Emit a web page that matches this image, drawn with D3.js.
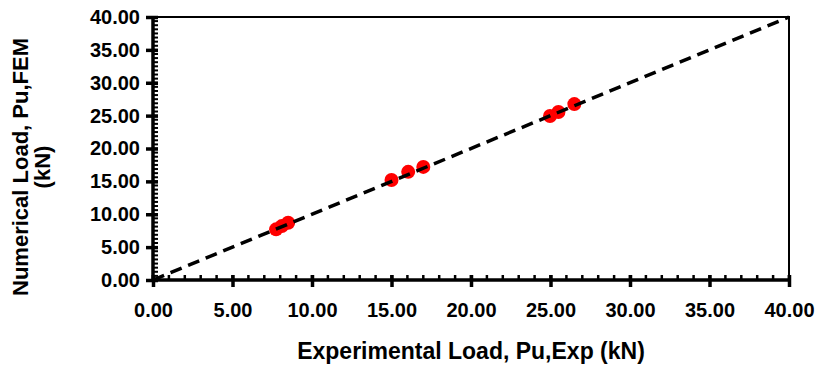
<!DOCTYPE html>
<html lang="en">
	<head>
		<meta charset="utf-8">
		<title>Numerical vs experimental load</title>
		<script type="text/javascript" src="https://cdn.jsdelivr.net/npm/d3@7/dist/d3.min.js"></script>
		<style type="text/css">
			body { margin: 0; background: #fff; }
			text { font-family: "Liberation Sans", Arial, sans-serif; font-weight: bold; fill: #000; }
		</style>
	</head>
	<body>
		<script type="text/javascript">

			//Data
			var expLoad = [7.74, 8.1, 8.5, 15.0, 16.05, 17.0, 24.97, 25.5, 26.5];
			var femLoad = [7.7, 8.2, 8.7, 15.2, 16.45, 17.2, 24.95, 25.55, 26.75];
			var tickValues = [0, 5, 10, 15, 20, 25, 30, 35, 40];
			var lineEnds = [0, 40];

			//Width and height
			var w = 819;
			var h = 369;
			var pLeft = 153, pRight = 789, pTop = 17, pBottom = 280;

			var xScale = d3.scaleLinear().domain([0, 40]).range([pLeft, pRight]);
			var yScale = d3.scaleLinear().domain([0, 40]).range([pBottom, pTop]);
			var fmt = d3.format(".2f");

			var svg = d3.select("body")
						.append("svg")
						.attr("width", w)
						.attr("height", h);

			//Top and right border
			svg.append("path")
			   .attr("d", "M" + pLeft + "," + pTop + "H" + pRight + "V" + pBottom)
			   .attr("fill", "none")
			   .attr("stroke", "#000")
			   .attr("stroke-width", 2);

			//Minor ticks (inside)
			var xMinor = d3.range(0, 40.01, 1);
			var yMinor = d3.range(0, 40.01, 0.625);

			svg.selectAll("line.xminor")
			   .data(xMinor)
			   .enter()
			   .append("line")
			   .attr("x1", function(d) { return xScale(d); })
			   .attr("x2", function(d) { return xScale(d); })
			   .attr("y1", pBottom)
			   .attr("y2", pBottom - 5)
			   .attr("stroke", "#000")
			   .attr("stroke-width", 2.5);

			svg.selectAll("line.yminor")
			   .data(yMinor)
			   .enter()
			   .append("line")
			   .attr("y1", function(d) { return yScale(d); })
			   .attr("y2", function(d) { return yScale(d); })
			   .attr("x1", pLeft)
			   .attr("x2", pLeft + 5)
			   .attr("stroke", "#000")
			   .attr("stroke-width", 2);

			//Axes
			var xAxis = d3.axisBottom(xScale).tickValues(tickValues).tickFormat(fmt).tickSize(7).tickPadding(16);
			var yAxis = d3.axisLeft(yScale).tickValues(tickValues).tickFormat(fmt).tickSize(7).tickPadding(6);

			var gx = svg.append("g")
			   .attr("transform", "translate(0," + pBottom + ")")
			   .call(xAxis);
			var gy = svg.append("g")
			   .attr("transform", "translate(" + pLeft + ",0)")
			   .call(yAxis);

			[gx, gy].forEach(function(g) {
				g.select(".domain").attr("stroke-width", 3.5);
				g.selectAll(".tick line").attr("stroke-width", 3.5);
				g.selectAll(".tick text")
				 .attr("font-size", "20px")
				 .attr("font-family", "'Liberation Sans', Arial, sans-serif")
				 .attr("font-weight", "bold");
			});
			gx.selectAll(".tick line").attr("y1", -5);
			gy.selectAll(".tick line").attr("x1", 5);
			gx.select(".domain").attr("d", "M" + pLeft + ",0H" + pRight);
			gy.select(".domain").attr("d", "M0," + pBottom + "V" + pTop);

			//Points
			svg.selectAll("circle")
			   .data(expLoad)
			   .enter()
			   .append("circle")
			   .attr("cx", function(d) { return xScale(d); })
			   .attr("cy", function(d, i) { return yScale(femLoad[i]); })
			   .attr("r", 7)
			   .attr("fill", "#ff0000");

			//1:1 dashed line, over the points
			svg.append("line")
			   .attr("x1", xScale(lineEnds[0]))
			   .attr("y1", yScale(lineEnds[0]))
			   .attr("x2", xScale(lineEnds[1]))
			   .attr("y2", yScale(lineEnds[1]))
			   .attr("stroke", "#000")
			   .attr("stroke-width", 3.5)
			   .attr("stroke-dasharray", "12,7");

			//Axis titles
			svg.append("text")
			   .attr("x", 471)
			   .attr("y", 359)
			   .attr("text-anchor", "middle")
			   .attr("font-size", "23px")
			   .text("Experimental Load, Pu,Exp (kN)");

			var yt = svg.append("text")
			   .attr("transform", "translate(28,167) rotate(-90)")
			   .attr("text-anchor", "middle")
			   .attr("font-size", "22px");
			yt.append("tspan").attr("x", 0).attr("y", 0).text("Numerical Load, Pu,FEM");
			yt.append("tspan").attr("x", 0).attr("y", 22).text("(kN)");

		</script>
	</body>
</html>
